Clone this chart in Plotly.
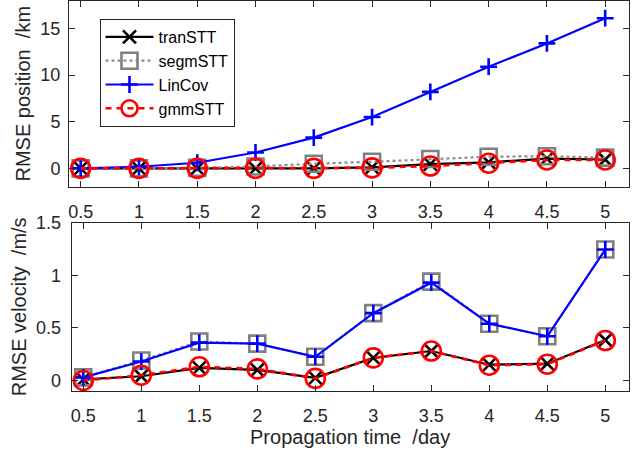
import plotly.graph_objects as go

W, H = 638, 454

days = [0.5, 1, 1.5, 2, 2.5, 3, 3.5, 4, 4.5, 5]
x_ticks = [0.5, 1, 1.5, 2, 2.5, 3, 3.5, 4, 4.5, 5]
x_ticklabels = ["0.5", "1", "1.5", "2", "2.5", "3", "3.5", "4", "4.5", "5"]

# RMSE position /km
pos_tranSTT = [0, 0, 0, 0, 0, 0.1, 0.45, 0.65, 1.05, 0.95]
pos_segmSTT = [0, 0, 0.05, 0.2, 0.5, 0.7, 1.0, 1.25, 1.3, 1.15]
pos_LinCov = [0, 0.17, 0.6, 1.7, 3.3, 5.5, 8.2, 10.9, 13.4, 16.1]
pos_gmmSTT = [0, 0, 0, 0, 0, 0.05, 0.25, 0.55, 0.9, 0.9]

# RMSE velocity /m/s
vel_tranSTT = [0.01, 0.04, 0.12, 0.10, 0.025, 0.215, 0.28, 0.15, 0.16, 0.385]
vel_segmSTT = [0.03, 0.19, 0.37, 0.35, 0.225, 0.64, 0.94, 0.54, 0.42, 1.245]
vel_LinCov = [0.03, 0.18, 0.36, 0.35, 0.225, 0.64, 0.93, 0.54, 0.42, 1.245]
vel_gmmSTT = [0.0, 0.05, 0.13, 0.11, 0.02, 0.215, 0.28, 0.145, 0.155, 0.38]

pos_yticks = [0, 5, 10, 15]
vel_yticks = [0, 0.5, 1, 1.5]
vel_yticklabels = ["0", "0.5", "1", "1.5"]

TXT = "#262626"
FONT = "Liberation Sans, Arial, sans-serif"

styles = {
    "tranSTT": dict(line=dict(color="#000000", width=2.2, dash="solid"),
                    marker=dict(symbol="x-thin-open", size=13,
                                line=dict(color="#000000", width=2.6))),
    "segmSTT": dict(line=dict(color="#8c8c8c", width=2.2, dash="dot"),
                    marker=dict(symbol="square-open", size=16, color="#808080",
                                line=dict(color="#808080", width=2.6))),
    "LinCov": dict(line=dict(color="#0000ff", width=2.2, dash="solid"),
                   marker=dict(symbol="cross-thin-open", size=12,
                               line=dict(color="#0000ff", width=2.6))),
    "gmmSTT": dict(line=dict(color="#ff0000", width=2.6, dash="6px,5px"),
                   marker=dict(symbol="circle-open", size=19, color="#ff0000",
                               line=dict(color="#ff0000", width=2.6))),
}

fig = go.Figure()

top = [("tranSTT", pos_tranSTT), ("segmSTT", pos_segmSTT),
       ("LinCov", pos_LinCov), ("gmmSTT", pos_gmmSTT)]
bot = [("tranSTT", vel_tranSTT), ("segmSTT", vel_segmSTT),
       ("LinCov", vel_LinCov), ("gmmSTT", vel_gmmSTT)]

for name, vals in top:
    fig.add_trace(go.Scatter(x=days, y=vals, name=name, mode="lines+markers",
                             xaxis="x", yaxis="y", showlegend=True,
                             **styles[name]))
for name, vals in bot:
    fig.add_trace(go.Scatter(x=days, y=vals, name=name, mode="lines+markers",
                             xaxis="x2", yaxis="y2", showlegend=False,
                             **styles[name]))

def px_x(p):
    return p / W

def px_y(p):
    return 1 - p / H

axis_common = dict(
    showline=True, linecolor=TXT, linewidth=1, mirror="ticks",
    ticks="inside", ticklen=6, tickwidth=1, tickcolor=TXT,
    showgrid=False, zeroline=False,
    tickfont=dict(family=FONT, size=18, color=TXT),
)

fig.update_layout(
    width=W, height=H,
    margin=dict(l=0, r=0, t=0, b=0),
    paper_bgcolor="white", plot_bgcolor="white",
    font=dict(family=FONT, color=TXT),
    xaxis=dict(domain=[px_x(69), px_x(628.5)], range=[0.4, 5.2],
               tickvals=x_ticks, ticktext=x_ticklabels, anchor="y",
               ticklabelstandoff=8, **axis_common),
    yaxis=dict(domain=[px_y(187), px_y(0.5)], range=[-2, 18],
               tickvals=pos_yticks, anchor="x", ticklabelstandoff=4,
               title=dict(text="RMSE position  /km", standoff=4,
                          font=dict(family=FONT, size=20, color=TXT)),
               automargin=False, **axis_common),
    xaxis2=dict(domain=[px_x(71.7), px_x(628.5)], range=[0.4, 5.2],
                tickvals=x_ticks, ticktext=x_ticklabels, anchor="y2",
                ticklabelstandoff=8,
                title=dict(text="Propagation time  /day", standoff=1,
                           font=dict(family=FONT, size=20, color=TXT)),
                automargin=False, **axis_common),
    yaxis2=dict(domain=[px_y(391), px_y(222.7)], range=[-0.1, 1.5],
                tickvals=vel_yticks, ticktext=vel_yticklabels, anchor="x2",
                ticklabelstandoff=6,
                title=dict(text="RMSE velocity  /m/s", standoff=4,
                           font=dict(family=FONT, size=20, color=TXT)),
                automargin=False, **axis_common),
    legend=dict(x=px_x(99.5), y=px_y(19), xanchor="left", yanchor="top",
                bgcolor="white", bordercolor=TXT, borderwidth=1,
                font=dict(family=FONT, size=16, color="#000000"),
                itemsizing="trace", tracegroupgap=0, itemwidth=48),
    showlegend=True,
)

fig.write_html("out.html")
